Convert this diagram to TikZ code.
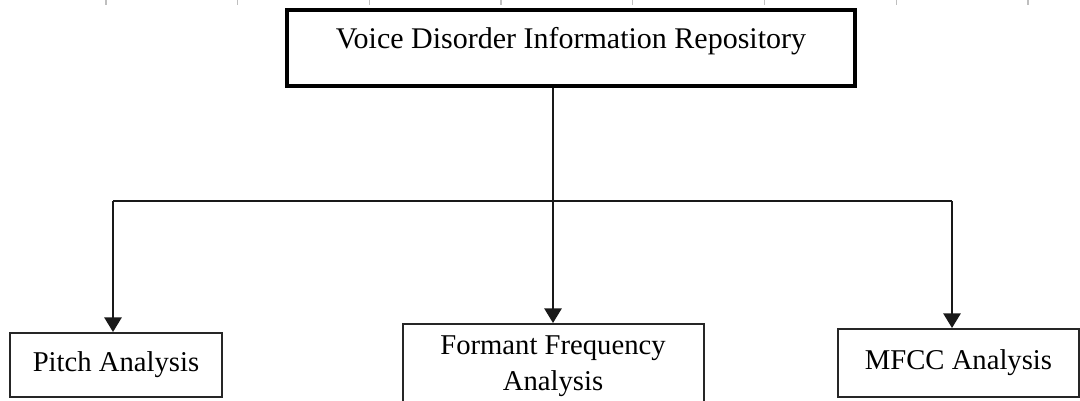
\documentclass[tikz,border=0pt]{standalone}
\usepackage{fontspec}
\setmainfont{Liberation Serif}
\usetikzlibrary{arrows.meta}
\begin{document}
\begin{tikzpicture}[x=0.75pt,y=-0.75pt,
  box/.style={draw=black!85,line width=1.5pt,inner sep=0pt,align=center,
    font=\fontsize{21.5}{27}\selectfont},
  headbox/.style={draw=black,line width=2.3pt,inner sep=0pt},
  link/.style={draw=black!90,line width=1.4pt},
  arr/.style={link,-{Triangle[length=11pt,width=13pt]}},
  tick/.style={draw=black!25,line width=1pt}]
\useasboundingbox (0,0) rectangle (1080,400);
% ruler ticks along the top edge
\foreach \k in {0,...,7}
  \draw[tick] ({106+131.7*\k},0) -- ({106+131.7*\k},5);
% repository box, its title set in the upper part
\node[headbox,minimum width=426pt,minimum height=57pt] (top) at (571,48) {};
\node[anchor=base,inner sep=0pt,font=\fontsize{22.5}{27}\selectfont] (title) at (571,48)
  {Voice Disorder Information Repository};
% analysis boxes
\node[box,minimum width=159pt,minimum height=48pt] (pitch) at (116,365) {Pitch Analysis};
\node[box,minimum width=225.75pt,minimum height=63pt] (formant) at (553,366) {Formant Frequency\\Analysis};
\node[box,minimum width=180.75pt,minimum height=51pt] (mfcc) at (958.5,363) {MFCC Analysis};
% distribution bus
\coordinate (busL) at (113,201);
\coordinate (busR) at (952,201);
\draw[arr] (top.south -| formant.north) -- (formant.north);
\draw[link] (busL) -- (busR);
\draw[arr] (busL) -- (busL |- pitch.north);
\draw[arr] (busR) -- (busR |- mfcc.north);
\end{tikzpicture}
\end{document}
